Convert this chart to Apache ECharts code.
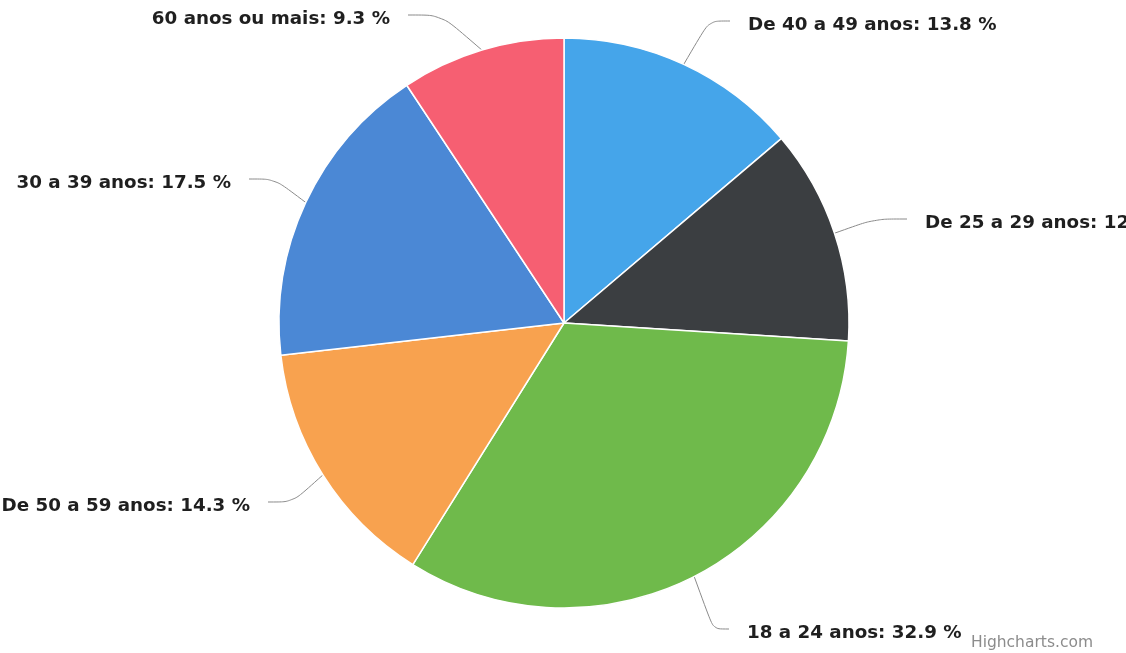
<!DOCTYPE html>
<html>
<head>
<meta charset="utf-8">
<script src="https://cdn.jsdelivr.net/npm/echarts@6/dist/echarts.min.js"></script>
<style>
  html, body { margin: 0; padding: 0; background: #fff; }
  #main { width: 1126px; height: 653px; }
</style>
</head>
<body>
<div id="main"></div>
<script>
// faixas etarias, sentido horario a partir do topo
var categorias = ['De 40 a 49 anos', 'De 25 a 29 anos', '18 a 24 anos', 'De 50 a 59 anos', '30 a 39 anos', '60 anos ou mais'];
var valores = [13.8, 12.2, 32.9, 14.3, 17.5, 9.3];
var cores = ['#45a5ea', '#3b3e41', '#6fba4b', '#f8a24f', '#4b88d5', '#f65f72'];

// posicao dos rotulos (estilo highcharts)
var rotX = [748, 925, 747, 250, 231, 390];
var rotY = [25, 223, 633, 506, 183, 19];
var rotAlign = ['left', 'left', 'left', 'right', 'right', 'right'];

var dados = categorias.map(function (c, i) {
    return { name: c, value: valores[i], itemStyle: { color: cores[i] } };
});

var myChart = echarts.init(document.getElementById('main'));
var option = {
    animation: false,
    series: [
        {
            type: 'pie',
            center: [564, 323],
            radius: 285,
            startAngle: 90,
            clockwise: true,
            data: dados,
            itemStyle: { borderColor: '#fff', borderWidth: 1.5 },
            label: {
                show: true,
                formatter: function (p) { return p.name + ': ' + p.value.toFixed(1) + ' %'; },
                fontFamily: 'DejaVu Sans',
                fontWeight: 'bold',
                fontSize: 18.3,
                color: '#1f1f1f'
            },
            labelLine: {
                show: true,
                smooth: 0.3,
                lineStyle: { color: '#8a8a8a', width: 1 }
            },
            labelLayout: function (params) {
                var i = params.dataIndex;
                var dir = rotAlign[i] === 'left' ? -1 : 1;
                var fim = [rotX[i] + dir * 18, rotY[i] - 4];
                var pts = params.labelLinePoints;
                var res = { x: rotX[i], y: rotY[i], align: rotAlign[i], verticalAlign: 'middle', moveOverlap: false };
                if (pts && pts.length) {
                    var p0 = pts[0];
                    var meio = [fim[0] + dir * Math.abs(p0[0] - fim[0]) * 0.45, fim[1]];
                    res.labelLinePoints = [p0, meio, fim];
                }
                return res;
            }
        }
    ],
    graphic: [
        {
            type: 'text',
            z: 100,
            right: 33,
            bottom: 2,
            style: { text: 'Highcharts.com', fill: '#8c8c8c', font: '15.5px "DejaVu Sans"' }
        }
    ]
};
myChart.setOption(option);
</script>
</body>
</html>
